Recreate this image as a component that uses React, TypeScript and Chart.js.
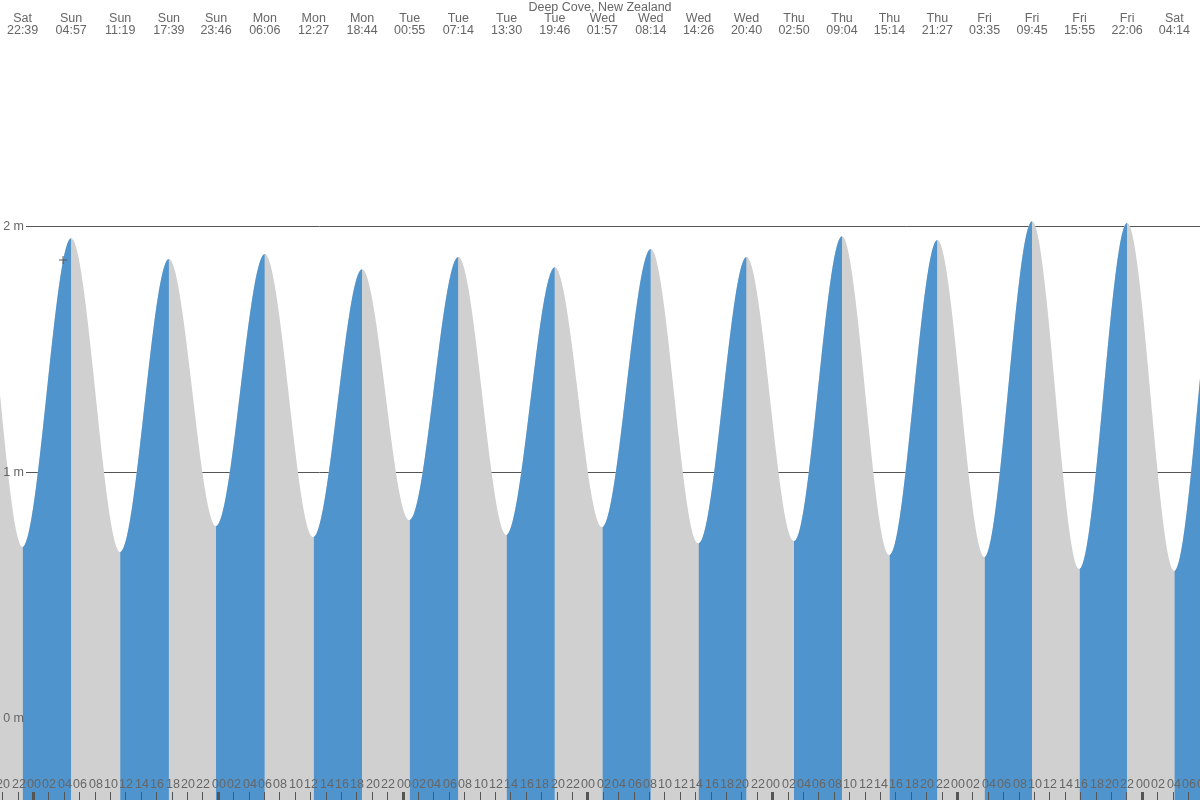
import React, { useEffect, useRef } from "react";
import { Chart, registerables } from "chart.js";

Chart.register(...registerables);

const title = "Deep Cove, New Zealand";
// day offset relative to Sunday (Sat before = -1)
const tideDayIdx = [-1, 0, 0, 0, 0, 1, 1, 1, 2, 2, 2, 2, 3, 3, 3, 3, 4, 4, 4, 4, 5, 5, 5, 5, 6];
const tideDayNames = ["Sat", "Sun", "Sun", "Sun", "Sun", "Mon", "Mon", "Mon", "Tue", "Tue", "Tue", "Tue", "Wed", "Wed", "Wed", "Wed", "Thu", "Thu", "Thu", "Thu", "Fri", "Fri", "Fri", "Fri", "Sat"];
const tideTimes = ["22:39", "04:57", "11:19", "17:39", "23:46", "06:06", "12:27", "18:44", "00:55", "07:14", "13:30", "19:46", "01:57", "08:14", "14:26", "20:40", "02:50", "09:04", "15:14", "21:27", "03:35", "09:45", "15:55", "22:06", "04:14"];
const tideHeights = [0.695, 1.951, 0.675, 1.866, 0.78, 1.886, 0.736, 1.825, 0.805, 1.874, 0.744, 1.833, 0.776, 1.907, 0.711, 1.874, 0.72, 1.959, 0.663, 1.943, 0.654, 2.02, 0.606, 2.012, 0.598];
// unlabeled extremes outside the visible window (hours from Sunday 00:00)
const preTimesH = [-13.7, -7.4];
const preHeights = [0.7, 1.99];
const postTimesH = [154.4, 160.6];
const postHeights = [2.0, 0.6];
// visible window (hours from Sunday 00:00)
const xMinH = -4.29;
const xMaxH = 151.56;
const yMinM = -0.333;
const yMaxM = 2.919;
const gridMeters = [0, 1, 2];
const markerTimeH = [3.9];
const markerHeightM = [1.862];

const BLUE = "rgb(79,148,205)";
const GRAY = "rgb(208,208,208)";
const TEXT = "#666666";
const FONT = "12.5px 'Liberation Sans', Arial, sans-serif";

function toHours(dayIdx: number, time: string) {
  const [h, m] = time.split(":").map(Number);
  return dayIdx * 24 + h + m / 60;
}

export default function App() {
  const ref = useRef<HTMLCanvasElement | null>(null);
  useEffect(() => {
    document.body.style.margin = "0";
    const tideT = tideTimes.map((t, i) => toHours(tideDayIdx[i], t));
    const pts = [
      ...preTimesH.map((t, i) => ({ x: t, y: preHeights[i] })),
      ...tideT.map((t, i) => ({ x: t, y: tideHeights[i] })),
      ...postTimesH.map((t, i) => ({ x: t, y: postHeights[i] })),
    ];
    const overlay = {
      id: "overlay",
      beforeDatasetsDraw(chart: any) {
        const ctx = chart.ctx;
        const ys = chart.scales.y;
        ctx.save();
        ctx.strokeStyle = "#555";
        ctx.lineWidth = 1;
        gridMeters.forEach((m) => {
          const y = Math.round(ys.getPixelForValue(m)) + 0.5;
          ctx.beginPath();
          ctx.moveTo(26, y);
          ctx.lineTo(chart.width, y);
          ctx.stroke();
        });
        ctx.restore();
      },
      afterDatasetsDraw(chart: any) {
        const ctx = chart.ctx;
        const xs = chart.scales.x;
        const ys = chart.scales.y;
        ctx.save();
        ctx.font = FONT;
        ctx.fillStyle = TEXT;
        ctx.textAlign = "right";
        ctx.textBaseline = "middle";
        gridMeters.forEach((m) => {
          const y = Math.round(ys.getPixelForValue(m)) + 0.5;
          ctx.fillText(m + " m", 24, y);
        });
        ctx.textAlign = "center";
        ctx.fillText(title, chart.width / 2, 8);
        tideT.forEach((t, i) => {
          const x = xs.getPixelForValue(t);
          ctx.fillText(tideDayNames[i], x, 19);
          ctx.fillText(tideTimes[i], x, 31);
        });
        const start = Math.ceil(xMinH / 2) * 2 - 2;
        for (let h = start; h <= xMaxH + 2; h += 2) {
          const x = Math.round(xs.getPixelForValue(h));
          const hh = ((h % 24) + 24) % 24;
          ctx.fillStyle = TEXT;
          ctx.fillText(String(hh).padStart(2, "0"), x + 1, 785);
          ctx.fillStyle = "#555";
          if (hh === 0) ctx.fillRect(x - 1, 792, 3, 8);
          else ctx.fillRect(x, 792, 1, 8);
        }
        ctx.restore();
      },
    };
    const chart = new Chart(ref.current as HTMLCanvasElement, {
      type: "line",
      data: {
        datasets: [
          {
            data: markerTimeH.map((t, i) => ({ x: t, y: markerHeightM[i] })),
            type: "scatter",
            order: 0,
            pointStyle: "cross",
            pointRadius: 4,
            borderColor: "#555",
            borderWidth: 1,
            backgroundColor: "#555",
          } as any,
          {
            data: pts,
            order: 1,
            fill: "start",
            borderWidth: 0,
            borderColor: "rgba(0,0,0,0)",
            pointRadius: 0,
            cubicInterpolationMode: "monotone",
            backgroundColor: BLUE,
            segment: {
              backgroundColor: (c: any) => (c.p1.parsed.y > c.p0.parsed.y ? BLUE : "rgba(0,0,0,0)"),
            },
          } as any,
          {
            data: pts,
            order: 2,
            fill: "start",
            borderWidth: 0,
            borderColor: "rgba(0,0,0,0)",
            pointRadius: 0,
            cubicInterpolationMode: "monotone",
            backgroundColor: GRAY,
          } as any,
        ],
      },
      options: {
        responsive: false,
        animation: false,
        layout: { padding: 0, autoPadding: false },
        plugins: { legend: { display: false }, tooltip: { enabled: false } },
        events: [],
        scales: {
          x: { type: "linear", min: xMinH, max: xMaxH, display: false },
          y: { min: yMinM, max: yMaxM, display: false },
        },
      },
      plugins: [overlay],
    } as any);
    return () => chart.destroy();
  }, []);
  return (
    <div style={{ position: "fixed", left: 0, top: 0, width: 1200, height: 800 }}>
      <canvas ref={ref} width={1200} height={800} />
    </div>
  );
}
